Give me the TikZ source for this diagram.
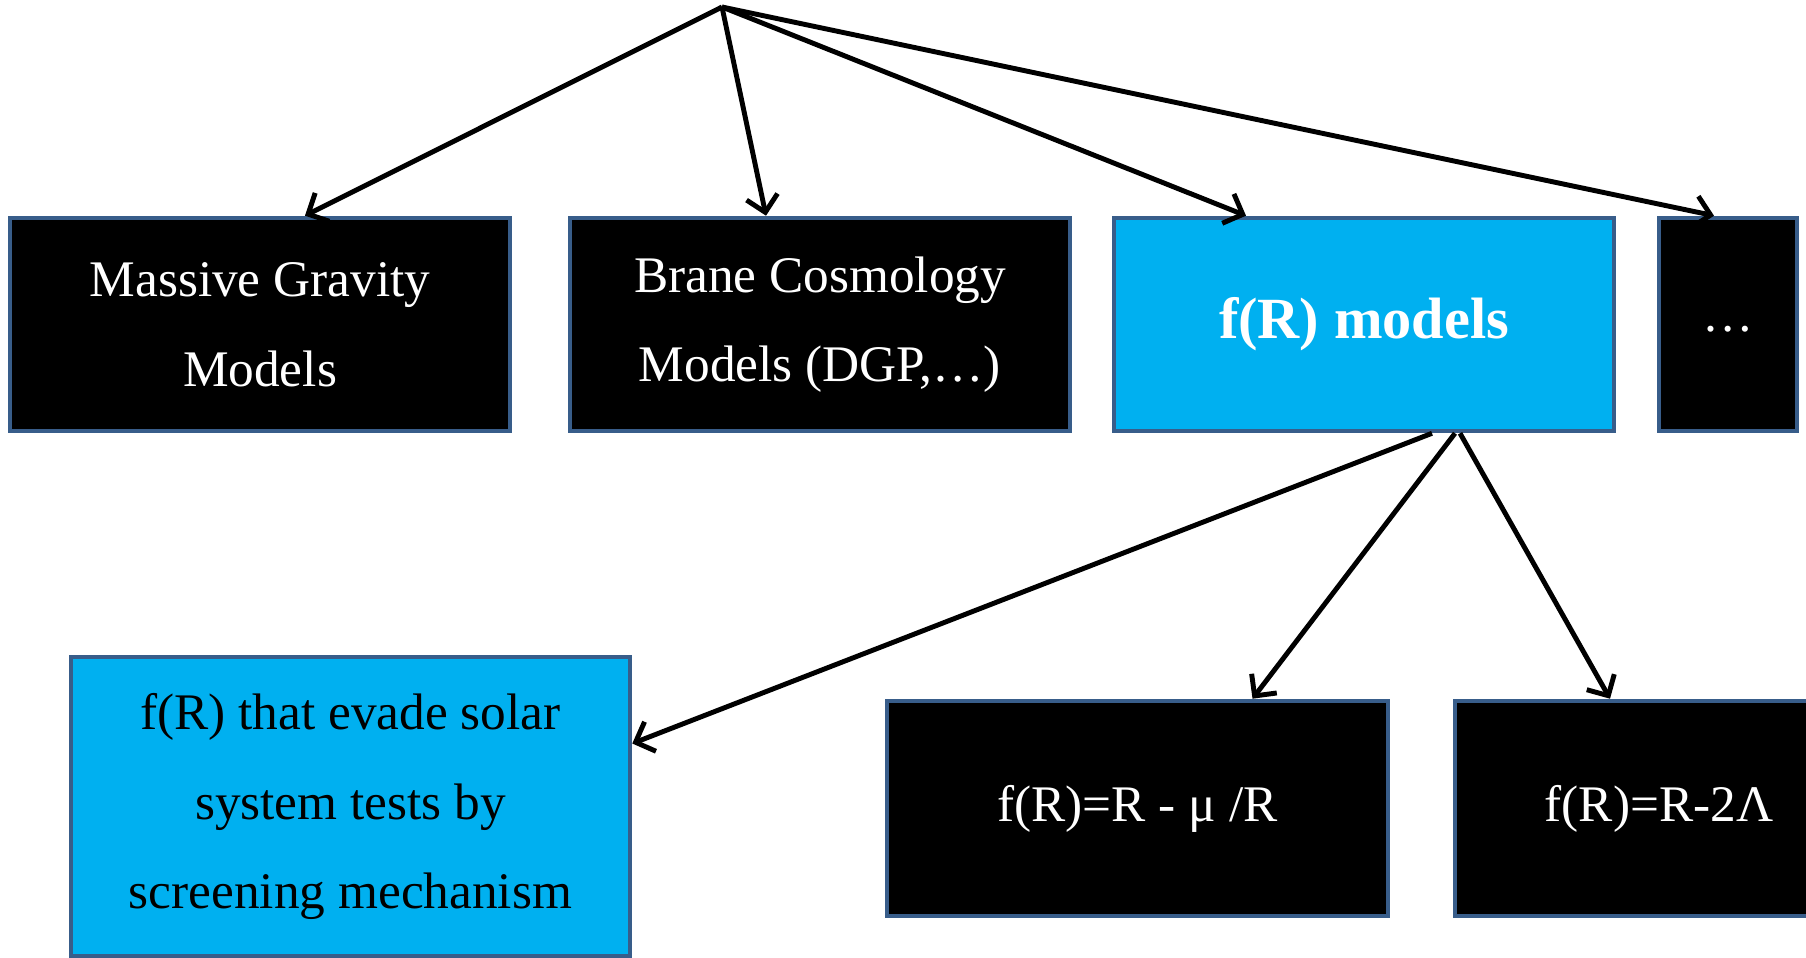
\documentclass[tikz,border=0pt]{standalone}
\usepackage{fontspec}
\setmainfont{Liberation Serif}
\usetikzlibrary{arrows.meta}
\definecolor{boxline}{RGB}{56,93,138}
\definecolor{skyfill}{RGB}{0,176,240}
\tikzset{
  modelbox/.style={draw=boxline, line width=1.3pt, minimum width=50mm, minimum height=21.3mm,
    align=center, inner sep=0pt, font=\fontsize{14.6}{25.5}\selectfont},
  darkbox/.style={modelbox, fill=black, text=white},
  bluebox/.style={modelbox, fill=skyfill},
  arr/.style={-{Straight Barb[length=4.5pt,width=9pt]}, line width=1.4pt}
}
\begin{document}
\begin{tikzpicture}[x=0.1mm, y=-0.1mm]
\useasboundingbox (0,0) rectangle (1806,958);
\clip (0,0) rectangle (1806,958);

\coordinate (top) at (722,7);

\node[darkbox] (massive) at (260,324.5) {Massive Gravity\\Models};
\node[darkbox] (brane) at (820,324.5) {Brane Cosmology\\Models (DGP,…)};
\node[bluebox, text=white, font=\bfseries\fontsize{16.6}{22}\selectfont] (fr) at (1364,324.5) {f(R) models};
\node[darkbox, minimum width=13.8mm] (dots) at (1728,324.5) {\raisebox{-0.6ex}{…}};

\node[bluebox, minimum width=55.9mm, minimum height=29.9mm] (screen) at (350.5,806.5)
  {f(R) that evade solar\\system tests by\\screening mechanism};
\node[darkbox, minimum width=50.1mm, minimum height=21.5mm] (inverse) at (1137.5,808.5) {f(R)=R - μ /R};
\node[darkbox, minimum width=40.8mm, minimum height=21.5mm] (lambda) at (1659,808.5) {f(R)=R-2Λ};

\draw[arr] (top) -- ([xshift=4.5mm]massive.north);
\draw[arr] (top) -- ([xshift=-5.4mm]brane.north);
\draw[arr] (top) -- ([xshift=-11.8mm]fr.north);
\draw[arr] (top) -- ([xshift=-1.4mm]dots.north);

\draw[arr] ([xshift=6.8mm]fr.south) -- ([yshift=6.3mm]screen.east);
\draw[arr] ([xshift=9.1mm]fr.south) -- ([xshift=11.5mm]inverse.north);
\draw[arr] ([xshift=9.6mm]fr.south) -- ([xshift=-4.9mm]lambda.north);
\end{tikzpicture}
\end{document}
